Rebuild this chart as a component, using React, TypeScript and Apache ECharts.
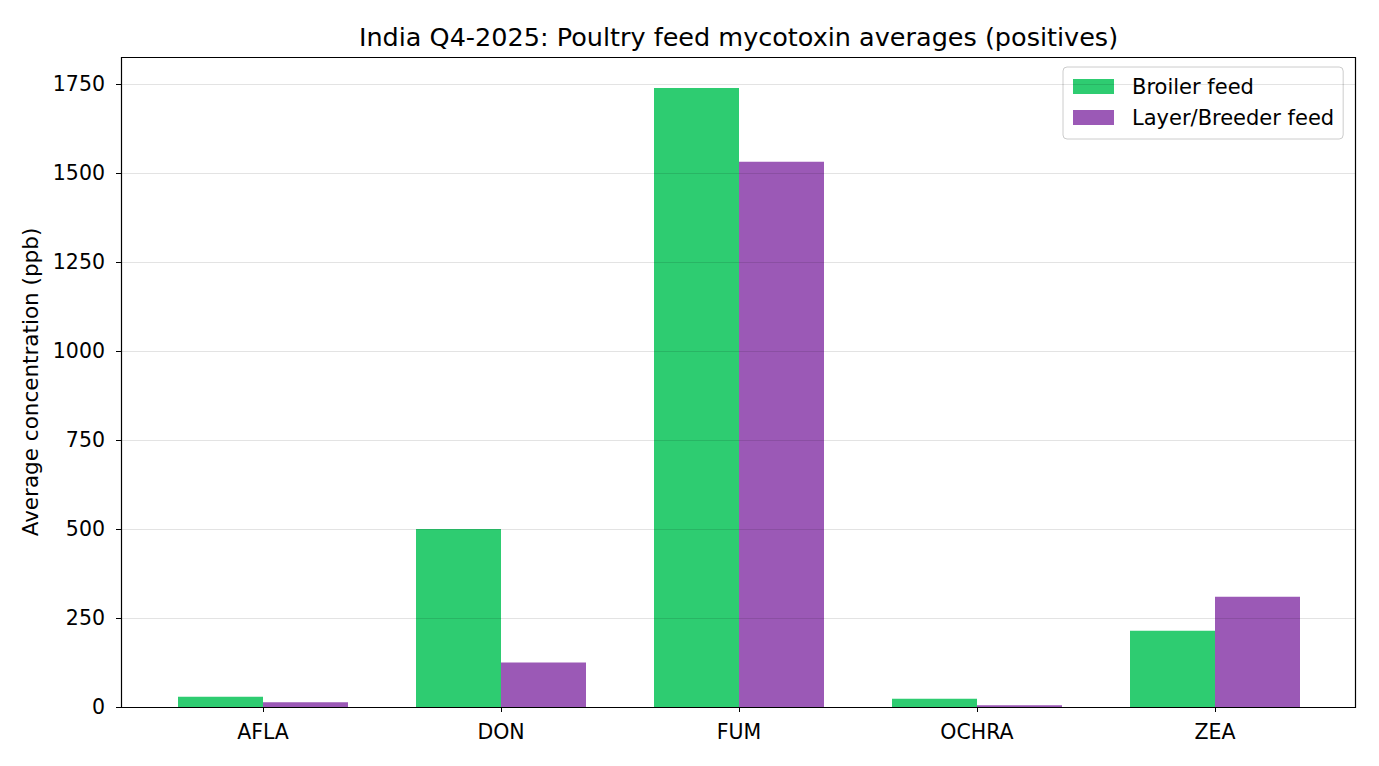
import React, { useEffect, useRef } from "react";
import * as echarts from "echarts";

const categories = ["AFLA", "DON", "FUM", "OCHRA", "ZEA"];
const broilerValues = [29, 500, 1739, 23, 214];
const layerValues = [13, 125, 1532, 5, 310];
const yTicks = [0, 250, 500, 750, 1000, 1250, 1500, 1750];
const seriesNames = ["Broiler feed", "Layer/Breeder feed"];
const titleText = "India Q4-2025: Poultry feed mycotoxin averages (positives)";
const yAxisName = "Average concentration (ppb)";

const FONT = "DejaVu Sans";

export default function App() {
  const ref = useRef<HTMLDivElement>(null);
  useEffect(() => {
    if (!ref.current) return;
    const chart = echarts.init(ref.current, undefined, { renderer: "svg" });
    const plotL = 121, plotT = 57, plotW = 1235, plotH = 650;
    const yMax = 1826;
    chart.setOption({
      animation: false,
      backgroundColor: "#ffffff",
      textStyle: { fontFamily: FONT },
      grid: [
        { left: plotL, top: plotT, width: plotW, height: plotH, containLabel: false },
        { left: 144, top: plotT, width: 1190, height: plotH, containLabel: false },
      ],
      legend: {
        data: seriesNames,
        orient: "vertical",
        left: 1063,
        top: 67,
        padding: [9, 9, 11, 10],
        itemWidth: 41,
        itemHeight: 15,
        itemGap: 10,
        backgroundColor: "#ffffff",
        borderColor: "#cccccc",
        borderWidth: 1,
        borderRadius: 4,
        icon: "rect",
        textStyle: { fontFamily: FONT, fontSize: 21, color: "#000", padding: [0, 0, 0, 13] },
      },
      xAxis: [
        {
          type: "value",
          gridIndex: 0,
          min: 0,
          max: 1,
          axisLine: { show: false },
          axisTick: { show: false },
          axisLabel: { show: false },
          splitLine: { show: false },
        },
        {
          type: "category",
          gridIndex: 1,
          data: categories,
          boundaryGap: true,
          axisLine: { show: false },
          axisTick: { show: true, alignWithLabel: true, length: 5, lineStyle: { color: "#000" } },
          axisLabel: { fontFamily: FONT, fontSize: 20.5, color: "#000", margin: 14 },
          splitLine: { show: false },
        },
      ],
      yAxis: [
        {
          type: "value",
          gridIndex: 0,
          min: 0,
          max: yMax,
          interval: 250,
          z: 5,
          name: yAxisName,
          nameLocation: "middle",
          nameRotate: 90,
          nameGap: 72,
          nameTextStyle: { fontFamily: FONT, fontSize: 21.5, color: "#000" },
          axisLine: { show: false },
          axisTick: { show: true, length: 5, lineStyle: { color: "#000" }, customValues: yTicks },
          axisLabel: {
            fontFamily: FONT,
            fontSize: 20.5,
            color: "#000",
            margin: 16,
            customValues: yTicks,
            formatter: (v: number) => String(v),
          },
          splitLine: { show: true, lineStyle: { color: "rgba(0,0,0,0.11)", width: 1 } },
        },
        {
          type: "value",
          gridIndex: 1,
          min: 0,
          max: yMax,
          show: false,
          splitLine: { show: false },
        },
      ],
      series: [
        {
          name: seriesNames[0],
          type: "bar",
          xAxisIndex: 1,
          yAxisIndex: 1,
          data: broilerValues,
          barWidth: 85,
          barGap: "0%",
          itemStyle: { color: "#2ecc71" },
          z: 2,
        },
        {
          name: seriesNames[1],
          type: "bar",
          xAxisIndex: 1,
          yAxisIndex: 1,
          data: layerValues,
          barWidth: 85,
          barGap: "0%",
          itemStyle: { color: "#9b59b6" },
          z: 2,
        },
      ],
      graphic: [
        {
          type: "rect",
          z: 10,
          silent: true,
          shape: { x: plotL + 0.5, y: plotT + 0.5, width: plotW - 1, height: plotH },
          style: { fill: "none", stroke: "#000", lineWidth: 1.2 },
        },
        {
          type: "text",
          x: plotL + plotW / 2,
          y: 37,
          style: {
            text: titleText,
            fontFamily: FONT,
            fontSize: 25.5,
            fill: "#000",
            textAlign: "center",
            textVerticalAlign: "middle",
          },
        },
      ],
    });
    return () => chart.dispose();
  }, []);
  return <div ref={ref} style={{ width: 1379, height: 766, position: "absolute", left: 0, top: 0 }} />;
}
